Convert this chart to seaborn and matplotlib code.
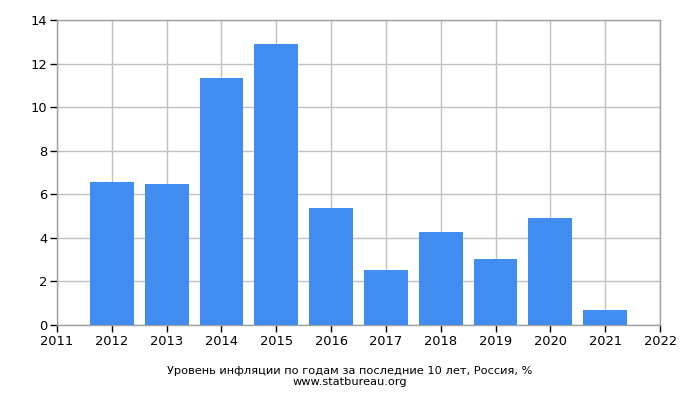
import matplotlib
matplotlib.use("Agg")
import matplotlib.pyplot as plt
import pandas as pd
import seaborn as sns

# Данные: инфляция в России по годам, %
YEARS = [2012, 2013, 2014, 2015, 2016, 2017, 2018, 2019, 2020, 2021]
INFLATION = [6.58, 6.45, 11.36, 12.91, 5.38, 2.52, 4.27, 3.05, 4.91, 0.69]
X_TICKS = list(range(2011, 2023))
Y_TICKS = [0, 2, 4, 6, 8, 10, 12, 14]

BAR_COLOR = "#418CF0"
GRID = "#C0C0C0"
SPINE = "#A0A0A0"

sns.set_theme(style="white")
plt.rcParams["font.family"] = ["DejaVu Sans"]

df = pd.DataFrame({"year": YEARS, "value": INFLATION})

fig = plt.figure(figsize=(7, 4), dpi=100)
ax = fig.add_axes([57 / 700, 75 / 400, 603 / 700, 305 / 400])

sns.barplot(data=df, x="year", y="value", native_scale=True, width=0.8,
            color=BAR_COLOR, saturation=1, linewidth=0, ax=ax, zorder=3)

ax.set_xlim(2011, 2022)
ax.set_ylim(0, 14)
ax.set_xticks(X_TICKS)
ax.set_xticklabels([str(t) for t in X_TICKS])
ax.set_yticks(Y_TICKS)
ax.grid(True, color=GRID, linewidth=1, zorder=0)
ax.set_axisbelow(True)
for s in ax.spines.values():
    s.set_color(SPINE)
    s.set_linewidth(1)
ax.tick_params(axis="both", direction="out", length=5, width=1,
               color="black", labelsize=9.4, labelcolor="black", pad=2,
               bottom=True, left=True)
ax.set_xlabel("")
ax.set_ylabel("")

fig.text(350 / 700, 1 - 371 / 400, "Уровень инфляции по годам за последние 10 лет, Россия, %",
         ha="center", va="center", fontsize=8.2, color="black")
fig.text(350 / 700, 1 - 382 / 400, "www.statbureau.org",
         ha="center", va="center", fontsize=8.2, color="black")

fig.savefig("out.png", dpi=100, facecolor="white")
